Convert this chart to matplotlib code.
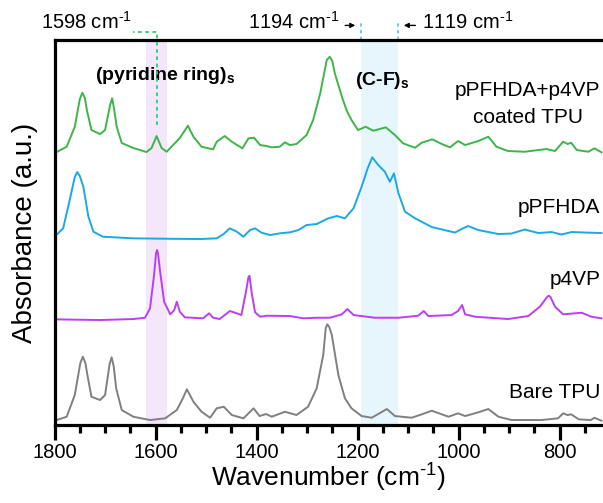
import matplotlib
matplotlib.use('Agg')
import matplotlib.pyplot as plt
from matplotlib.ticker import MultipleLocator

plt.rcParams['font.family'] = 'Liberation Sans'
plt.rcParams['mathtext.fontset'] = 'custom'
plt.rcParams['mathtext.rm'] = 'Liberation Sans'
plt.rcParams['mathtext.it'] = 'Liberation Sans:italic'
plt.rcParams['mathtext.bf'] = 'Liberation Sans:bold'

# FTIR spectra (wavenumber in cm-1, absorbance in a.u. above each trace's baseline)
wn_coated = [1800, 1776, 1760, 1750, 1745, 1740, 1736, 1727, 1710, 1700, 1690, 1686,
             1682, 1677, 1667, 1644, 1618, 1608, 1598, 1588, 1578, 1562, 1552, 1536,
             1525, 1509, 1486, 1479, 1463, 1449, 1428, 1416, 1405, 1393, 1380, 1370,
             1354, 1344, 1334, 1321, 1301, 1288, 1274, 1261, 1255, 1250, 1245, 1231,
             1222, 1212, 1199, 1184, 1169, 1144, 1126, 1110, 1086, 1073, 1052, 1033,
             1017, 1001, 987, 961, 941, 925, 902, 869, 826, 809, 793, 784,
             777, 766, 743, 731, 717]
abs_coated = [0.0, 0.063, 0.263, 0.54, 0.603, 0.55, 0.43, 0.23, 0.19, 0.23, 0.48, 0.547,
              0.44, 0.263, 0.10, 0.05, 0.01, 0.05, 0.17, 0.05, 0.013, 0.097, 0.15, 0.273,
              0.163, 0.063, 0.037, 0.113, 0.17, 0.113, 0.047, 0.147, 0.153, 0.08, 0.07, 0.057,
              0.063, 0.107, 0.08, 0.09, 0.18, 0.33, 0.597, 0.93, 0.963, 0.92, 0.797, 0.563,
              0.43, 0.33, 0.23, 0.263, 0.223, 0.257, 0.18, 0.097, 0.053, 0.103, 0.137, 0.09,
              0.057, 0.12, 0.08, 0.12, 0.163, 0.063, 0.02, 0.013, 0.04, 0.02, 0.113, 0.09,
              0.103, 0.03, 0.013, 0.047, 0.007]

wn_ppfhda = [1800, 1783, 1770, 1760, 1755, 1750, 1743, 1733, 1723, 1704, 1644, 1578,
             1512, 1479, 1466, 1453, 1439, 1426, 1413, 1403, 1390, 1373, 1354, 1334,
             1317, 1301, 1281, 1265, 1258, 1241, 1225, 1208, 1192, 1180, 1171, 1159,
             1146, 1136, 1128, 1119, 1106, 1086, 1053, 1020, 1007, 994, 981, 961,
             921, 895, 869, 842, 816, 796, 776, 750, 717]
abs_ppfhda = [0.023, 0.107, 0.39, 0.62, 0.67, 0.63, 0.523, 0.223, 0.073, 0.023, 0.007, 0.003,
              0.0, 0.007, 0.047, 0.107, 0.073, 0.023, 0.09, 0.107, 0.063, 0.04, 0.057, 0.067,
              0.09, 0.14, 0.15, 0.19, 0.207, 0.23, 0.207, 0.307, 0.523, 0.707, 0.817, 0.74,
              0.673, 0.573, 0.657, 0.457, 0.273, 0.207, 0.12, 0.08, 0.065, 0.10, 0.13, 0.09,
              0.05, 0.055, 0.095, 0.06, 0.07, 0.045, 0.07, 0.065, 0.06]

wn_p4vp = [1800, 1710, 1644, 1621, 1611, 1603, 1599, 1597, 1595, 1591, 1583, 1571,
           1563, 1558, 1552, 1542, 1506, 1494, 1486, 1473, 1453, 1439, 1430, 1421,
           1416, 1414, 1410, 1403, 1393, 1380, 1334, 1307, 1281, 1255, 1231, 1220,
           1208, 1166, 1119, 1080, 1069, 1060, 1014, 1001, 993, 987, 967, 902,
           862, 839, 824, 821, 818, 809, 793, 756, 737, 717]
abs_p4vp = [0.007, 0.0, 0.01, 0.023, 0.117, 0.45, 0.67, 0.70, 0.66, 0.483, 0.183, 0.057,
            0.10, 0.183, 0.083, 0.027, 0.017, 0.067, 0.023, 0.01, 0.09, 0.067, 0.05, 0.283,
            0.43, 0.443, 0.283, 0.077, 0.033, 0.043, 0.04, 0.017, 0.023, 0.023, 0.057, 0.11,
            0.05, 0.023, 0.023, 0.043, 0.09, 0.04, 0.05, 0.09, 0.15, 0.057, 0.033, 0.01,
            0.04, 0.133, 0.235, 0.243, 0.23, 0.133, 0.057, 0.073, 0.033, 0.017]

wn_tpu = [1800, 1776, 1760, 1749, 1744, 1739, 1735, 1727, 1710, 1700, 1691, 1687,
          1683, 1678, 1667, 1644, 1611, 1581, 1558, 1546, 1538, 1525, 1509, 1492,
          1479, 1465, 1449, 1426, 1406, 1394, 1381, 1370, 1344, 1321, 1298, 1281,
          1268, 1263, 1260, 1256, 1251, 1238, 1225, 1212, 1192, 1172, 1142, 1126,
          1093, 1073, 1053, 1020, 1001, 987, 961, 941, 921, 895, 836, 803,
          793, 784, 777, 762, 738, 731, 717]
abs_tpu = [0.003, 0.043, 0.26, 0.58, 0.643, 0.58, 0.46, 0.243, 0.21, 0.26, 0.57, 0.637,
           0.55, 0.327, 0.11, 0.043, 0.01, 0.027, 0.11, 0.227, 0.317, 0.193, 0.093, 0.033,
           0.127, 0.143, 0.06, 0.027, 0.127, 0.05, 0.07, 0.043, 0.093, 0.06, 0.143, 0.327,
           0.66, 0.93, 0.967, 0.94, 0.86, 0.46, 0.227, 0.127, 0.05, 0.033, 0.12, 0.05,
           0.033, 0.067, 0.103, 0.043, 0.077, 0.05, 0.087, 0.12, 0.043, 0.01, 0.01, 0.027,
           0.077, 0.06, 0.067, 0.017, 0.01, 0.033, 0.003]

offsets = [2.72, 1.86, 1.05, 0.04]
colors = ['#3db54a', '#1aa9e1', '#bb3ff0', '#808080']

fig = plt.figure(figsize=(6.03, 5.03), dpi=100)
ax = fig.add_axes([0.0905, 0.155, 0.9095, 0.7654])

# highlighted bands
ax.axvspan(1618, 1578, color='#f4e6fb', lw=0, zorder=0)
ax.axvspan(1194, 1119, color='#e7f5fd', lw=0, zorder=0)

spectra = [(wn_coated, abs_coated), (wn_ppfhda, abs_ppfhda),
           (wn_p4vp, abs_p4vp), (wn_tpu, abs_tpu)]
for (wn, a), off, c in zip(spectra, offsets, colors):
    ax.plot(wn, [v + off for v in a], color=c, lw=1.4, zorder=2)

ax.set_xlim(1800, 714)
ax.set_ylim(0, 3.85)

inv = r'cm$^{\text{-}1}$'

# trace labels
tr = ax.get_xaxis_transform()
ax.text(863, 3.35, 'pPFHDA+p4VP', ha='center', va='center', fontsize=15)
ax.text(863, 3.08, 'coated TPU', ha='center', va='center', fontsize=15)
ax.text(719, 2.18, 'pPFHDA', ha='right', va='center', fontsize=15)
ax.text(719, 1.46, 'p4VP', ha='right', va='center', fontsize=15)
ax.text(719, 0.33, 'Bare TPU', ha='right', va='center', fontsize=15)

ax.text(1720, 3.50, r'(pyridine ring)$_\mathbf{s}$', ha='left', va='center',
        fontsize=14, fontweight='bold')
ax.text(1205, 3.45, r'(C-F)$_\mathbf{s}$', ha='left', va='center',
        fontsize=14, fontweight='bold')

# 1598 cm-1 marker
ax.plot([1598, 1598, 1645], [0.78, 1.021, 1.021], transform=tr, color='#2ecc71',
        lw=1.3, ls=(0, (2, 2)), clip_on=False, zorder=3)
ax.text(1647, 1.047, '1598 ' + inv, transform=tr, ha='right', va='center',
        fontsize=14.5)

# C-F band limits
for w in (1194, 1119):
    ax.plot([w, w], [1.0, 1.045], transform=tr, color='#5bc0eb', lw=1.2,
            ls=(0, (2, 2)), clip_on=False)
ax.text(1236, 1.047, '1194 ' + inv, transform=tr, ha='right', va='center',
        fontsize=14.5)
ax.text(1072, 1.047, '1119 ' + inv, transform=tr, ha='left', va='center',
        fontsize=14.5)
ax.annotate('', xy=(1199, 1.038), xytext=(1230, 1.038), xycoords=tr, textcoords=tr,
            arrowprops=dict(arrowstyle='-|>', color='k', lw=1, mutation_scale=7),
            annotation_clip=False)
ax.annotate('', xy=(1114, 1.038), xytext=(1080, 1.038), xycoords=tr, textcoords=tr,
            arrowprops=dict(arrowstyle='-|>', color='k', lw=1, mutation_scale=7),
            annotation_clip=False)

# axes styling
for s in ('left', 'bottom', 'top'):
    ax.spines[s].set_linewidth(2.3)
ax.spines['right'].set_visible(False)
ax.set_yticks([])
ax.xaxis.set_major_locator(MultipleLocator(200))
ax.xaxis.set_minor_locator(MultipleLocator(50))
ax.tick_params(axis='x', which='major', direction='out', length=11, width=2.3,
               labelsize=14.5, pad=2)
ax.tick_params(axis='x', which='minor', direction='out', length=6, width=2.3)
ax.set_xlabel('Wavenumber (' + inv + ')', fontsize=19, labelpad=0)
ax.set_ylabel('Absorbance (a.u.)', fontsize=20)
ax.yaxis.set_label_coords(-0.03, 0.5)

fig.savefig('out.png', dpi=100)
